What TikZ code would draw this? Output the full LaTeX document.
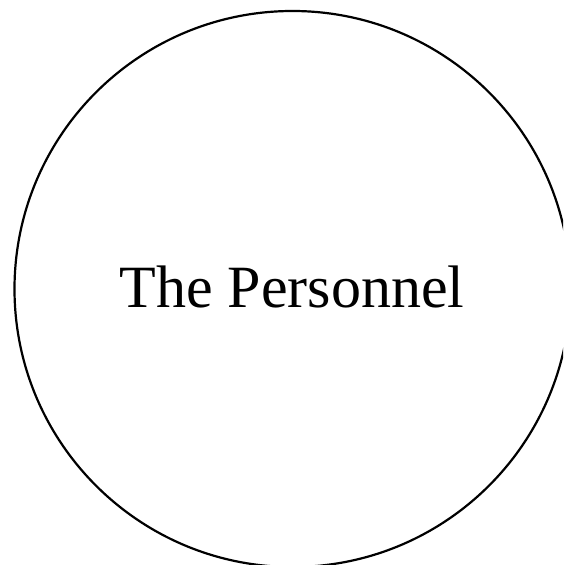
\documentclass[tikz,border=0pt]{standalone}
\usepackage{fontspec}
\setmainfont{Liberation Serif}
\begin{document}
\begin{tikzpicture}[x=1pt,y=1pt]
\useasboundingbox (0,0) rectangle (563,565);
\clip (0,0) rectangle (563,565);
\node[circle,draw,line width=2.2pt,minimum size=556pt,inner sep=0pt] (c) at (292.5,276) {};
\node[anchor=base,font=\fontsize{60}{61}\selectfont,inner sep=0pt] (t) at (292,257) {The Personnel};
\end{tikzpicture}
\end{document}
